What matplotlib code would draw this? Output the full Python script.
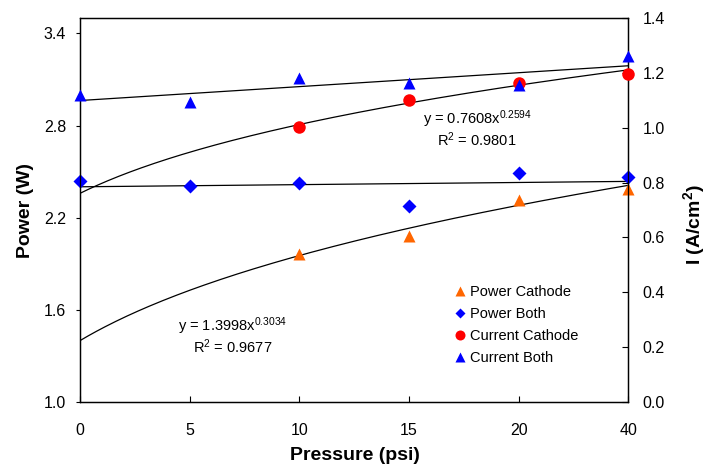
import numpy as np
import matplotlib
matplotlib.use("Agg")
import matplotlib.pyplot as plt

plt.rcParams['font.family'] = ['Liberation Sans', 'DejaVu Sans']
plt.rcParams['mathtext.fontset'] = 'custom'
plt.rcParams['mathtext.rm'] = 'Liberation Sans'
plt.rcParams['mathtext.it'] = 'Liberation Sans:italic'
plt.rcParams['mathtext.bf'] = 'Liberation Sans:bold'

# pressure categories (psi), plotted at equal spacing like an Excel line chart
pressure_labels = ['0', '5', '10', '15', '20', '40']
x_idx = np.arange(1, len(pressure_labels) + 1)

# left axis: power (W)
power_cathode = [np.nan, np.nan, 1.964, 2.081, 2.313, 2.389]
power_both = [2.440, 2.406, 2.428, 2.278, 2.493, 2.467]

# right axis: current density (A/cm2)
current_cathode = [np.nan, np.nan, 1.001, 1.101, 1.162, 1.196]
current_both = [1.119, 1.092, 1.183, 1.163, 1.156, 1.262]

# power-law trend coefficients shown on the chart
power_fit = (1.3998, 0.3034, 0.9677)
current_fit = (0.7608, 0.2594, 0.9801)

fig = plt.figure(figsize=(7.12, 4.66), dpi=100)
ax = fig.add_axes([0.1124, 0.1373, 0.7703, 0.8241])
ax2 = ax.twinx()

xs = np.linspace(1, 6, 200)

# power series
h1, = ax.plot(x_idx, power_cathode, '^', color='#FF6600', ms=9, mec='none',
              label='Power Cathode', clip_on=False, zorder=3)
h2, = ax.plot(x_idx, power_both, 'D', color='#0000FF', ms=7, mec='none',
              label='Power Both', clip_on=False, zorder=3)
ax.plot(xs, power_fit[0] * xs ** power_fit[1], color='black', lw=0.9)
m, b = np.polyfit(x_idx, power_both, 1)
ax.plot(xs, m * xs + b, color='black', lw=0.9)

# current series
h3, = ax2.plot(x_idx, current_cathode, 'o', color='#FF0000', ms=9, mec='none',
               label='Current Cathode', clip_on=False, zorder=3)
h4, = ax2.plot(x_idx, current_both, '^', color='#0000FF', ms=9, mec='none',
               label='Current Both', clip_on=False, zorder=3)
ax2.plot(xs, current_fit[0] * xs ** current_fit[1], color='black', lw=0.9)
m2, b2 = np.polyfit(x_idx, current_both, 1)
ax2.plot(xs, m2 * xs + b2, color='black', lw=0.9)

ax.set_xlim(1, 6)
ax.set_ylim(1.0, 3.5)
ax.set_yticks([1.0, 1.6, 2.2, 2.8, 3.4])
ax.set_yticklabels(['1.0', '1.6', '2.2', '2.8', '3.4'])
ax2.set_ylim(0, 1.4)
ax2.set_yticks(np.arange(0, 1.41, 0.2))
ax2.set_yticklabels(['%.1f' % v for v in np.arange(0, 1.41, 0.2)])
ax.set_xticks(x_idx)
ax.set_xticklabels(pressure_labels)

ax.tick_params(axis='x', direction='in', length=4, pad=15, labelsize=11.5, width=0.8)
ax.tick_params(axis='y', direction='out', length=3, pad=7, labelsize=11.5, width=0.8)
ax2.tick_params(axis='y', direction='in', length=4, pad=10, labelsize=11.5, width=0.8)
for a in (ax, ax2):
    for s in a.spines.values():
        s.set_linewidth(0.9)

fig.text(355 / 712, 1 - 455 / 466, 'Pressure (psi)', ha='center', va='center',
         fontsize=14, fontweight='bold')
fig.text(25 / 712, 1 - 210 / 466, 'Power (W)', ha='center', va='center',
         rotation=90, fontsize=14, fontweight='bold')
fig.text(694 / 712, 1 - 225 / 466, r'I (A/cm$^\mathbf{2}$)', ha='center', va='center',
         rotation=90, fontsize=14, fontweight='bold')

# trendline equations
ax.text(233 / 712, 1 - 336 / 466,
        'y = %.4fx$^{\\mathregular{%.4f}}$\nR$^{\\mathregular{2}}$ = %.4f' % power_fit,
        transform=fig.transFigure, ha='center', va='center', fontsize=10.5,
        multialignment='center', linespacing=1.05)
ax2.text(477 / 712, 1 - 129 / 466,
         'y = %.4fx$^{\\mathregular{%.4f}}$\nR$^{\\mathregular{2}}$ = %.4f' % current_fit,
         transform=fig.transFigure, ha='center', va='center', fontsize=10.5,
         multialignment='center', linespacing=1.05)

ax2.legend(handles=[h1, h2, h3, h4], loc='upper left', bbox_to_anchor=(0.684, 0.305),
           frameon=False, fontsize=10.5, numpoints=1, handlelength=0.7,
           handletextpad=0.3, labelspacing=0.55, borderpad=0, borderaxespad=0,
           markerscale=0.8)

fig.savefig('out.png', dpi=100)
